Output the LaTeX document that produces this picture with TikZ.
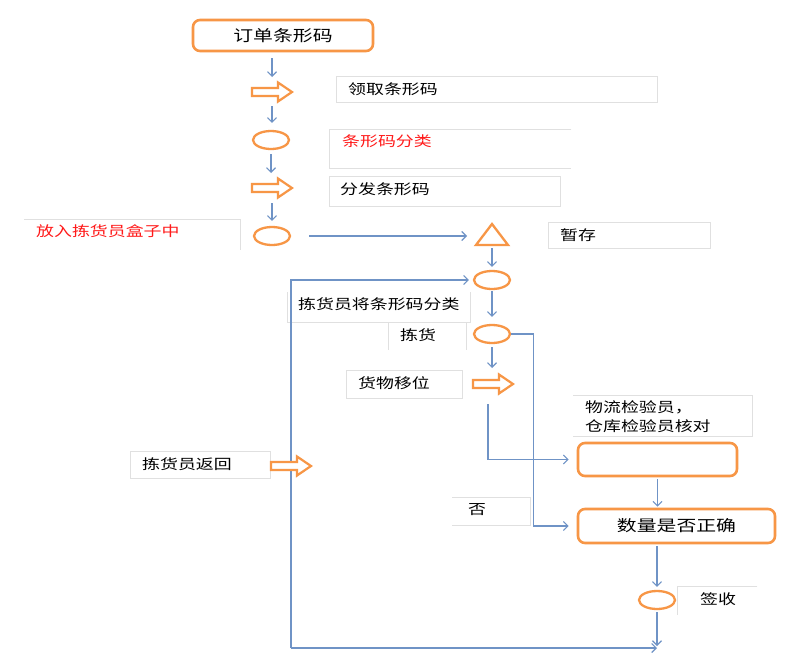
\documentclass[tikz,border=0pt]{standalone}
\usepackage{fontspec}
\newfontfamily\cjk[FakeStretch=1.28]{Noto Sans CJK SC}
\usetikzlibrary{shapes.geometric,arrows.meta}
\definecolor{orng}{HTML}{F79646}
\definecolor{lblue}{HTML}{6F93C6}
\definecolor{boxgray}{HTML}{E0E0E0}
\definecolor{redtxt}{HTML}{FF1A1A}
\begin{document}
\begin{tikzpicture}[x=1pt,y=-1pt,
  flow/.style={draw=lblue, line width=1.1pt, -{Straight Barb[length=4.5pt,width=9pt]}},
  orngbox/.style={draw=orng, line width=2.6pt, rounded corners=7pt, inner sep=0},
  oval/.style={ellipse, draw=orng, line width=2.3pt, minimum width=36pt, minimum height=18pt, inner sep=0},
  fatline/.style={draw=orng, fill=white, line width=2.2pt, line join=miter},
  tbox/.style={anchor=north west, inner sep=0},
  tline/.style={draw=boxgray, line width=0.9pt},
  lbl/.style={font=\cjk\fontsize{14}{19}\selectfont, anchor=west, inner sep=0, align=left},
  biglbl/.style={font=\cjk\fontsize{15.5}{18}\selectfont},
  fatarrow/.pic={\path[fatline] (-20,-4) -- (6,-4) -- (6,-9.5) -- (20,0) -- (6,9.5) -- (6,4) -- (-20,4) -- cycle;}
]
\fill[white] (0,0) rectangle (810,664);
\useasboundingbox (0,0) rectangle (810,664);

% text boxes
\node[tbox, minimum width=321pt, minimum height=26pt] (b1) at (336,76) {};
\node[tbox, minimum width=242pt, minimum height=39pt] (b2) at (329,129) {};
\node[tbox, minimum width=231pt, minimum height=30pt] (b3) at (329,176) {};
\node[tbox, minimum width=216pt, minimum height=31pt] (b4) at (24,219) {};
\node[tbox, minimum width=162pt, minimum height=26pt] (b5) at (548,222) {};
\node[tbox, minimum width=183pt, minimum height=30pt] (b6) at (287,292) {};
\node[tbox, minimum width=78pt, minimum height=28pt] (b7) at (388,322) {};
\node[tbox, minimum width=116pt, minimum height=28pt] (b8) at (346,370) {};
\node[tbox, minimum width=179pt, minimum height=41pt] (b9) at (573,395) {};
\node[tbox, minimum width=140pt, minimum height=27pt] (b10) at (130,451) {};
\node[tbox, minimum width=78pt, minimum height=28pt] (b11) at (452,497) {};
\node[tbox, minimum width=80pt, minimum height=29pt] (b12) at (677,586) {};

\draw[tline] (b1.north west) rectangle (b1.south east);
\draw[tline] (b2.north east) -- (b2.north west) -- (b2.south west) -- (b2.south east);
\draw[tline] (b3.north west) rectangle (b3.south east);
\draw[tline] (b4.north west) -- (b4.north east) -- (b4.south east);
\draw[tline] (b5.north west) rectangle (b5.south east);
\draw[tline] (b6.north west) -- (b6.south west) -- (b6.south east) -- (b6.north east);
\draw[tline] (b7.north west) -- (b7.south west) (b7.north east) -- (b7.south east);
\draw[tline] (b8.north west) rectangle (b8.south east);
\draw[tline] (b9.north west) -- (b9.north east) -- (b9.south east) -- (b9.south west);
\draw[tline] (b10.north west) rectangle (b10.south east);
\draw[tline] (b11.north west) -- (b11.north east) -- (b11.south east) -- (b11.south west);
\draw[tline] (b12.north east) -- (b12.north west) -- (b12.south west);

% labels
\node[lbl] (t1) at (348,89) {领取条形码};
\node[lbl, text=redtxt] (t2) at (342,141) {条形码分类};
\node[lbl] (t3) at (340,189) {分发条形码};
\node[lbl, text=redtxt] (t4) at (36,231) {放入拣货员盒子中};
\node[lbl] (t5) at (560,235) {暂存};
\node[lbl] (t6) at (298,304) {拣货员将条形码分类};
\node[lbl] (t7) at (400,335) {拣货};
\node[lbl] (t8) at (358,383) {货物移位};
\node[lbl] (t9) at (585,417) {物流检验员，\\仓库检验员核对};
\node[lbl] (t10) at (142,464) {拣货员返回};
\node[lbl] (t11) at (468,510) {否};
\node[lbl] (t12) at (700,599) {签收};

% main shapes
\node[orngbox, minimum width=180pt, minimum height=31pt, biglbl] (top) at (283,35.5) {订单条形码};
\coordinate (fa1) at (272,92);
\coordinate (fa2) at (272,188);
\coordinate (fa3) at (493,384);
\coordinate (fa4) at (291,466);
\node[oval] (e1) at (271,140) {};
\node[oval] (e2) at (272,236) {};
\coordinate (tri) at (492,245);
\node[oval] (e3) at (492,280) {};
\node[oval] (e4) at (492,334) {};
\node[orngbox, minimum width=159pt, minimum height=33pt] (chk) at (657.5,459.5) {};
\node[orngbox, minimum width=197pt, minimum height=34pt, biglbl] (qty) at (676.5,526) {数量是否正确};
\node[oval] (sign) at (657,600) {};
\coordinate (bot) at (657,648);
\coordinate (m1) at (488,404);

% connectors
\draw[flow, shorten <=6pt, shorten >=15pt] (top.south -| fa1) -- (fa1);
\draw[flow, shorten <=14pt, shorten >=7pt] (fa1) -- (fa1 |- e1.north);
\draw[flow, shorten <=4pt, shorten >=15pt] (e1.south) -- (e1.south |- fa2);
\draw[flow, shorten <=15pt, shorten >=5pt] (fa2) -- (fa2 |- e2.north);
\draw[flow, shorten <=18pt, shorten >=25pt] (e2.east) -- (e2.east -| tri);
\draw[flow, shorten <=3pt, shorten >=3pt] (tri) -- (e3.north);
\draw[flow, shorten <=1pt, shorten >=7pt] (e3.south) -- (e4.north);
\draw[flow, shorten <=3pt, shorten >=16pt] (e4.south) -- (e4.south |- fa3);
\draw[flow, shorten >=8pt] (e4.east) -| ([xshift=-43pt]qty.west |- e4.east) |- (qty.west);
\draw[flow, shorten >=8pt] (m1) |- (chk.west);
\draw[flow, shorten <=2pt, shorten >=1pt] (chk.south) -- (chk.south |- qty.north);
\draw[flow, shorten <=2pt, shorten >=3pt] (qty.south -| sign) -- (sign.north);
\draw[flow, shorten <=2pt, shorten >=2pt] (sign.south) -- (bot);
\draw[flow, shorten >=4pt] (fa4 |- bot) -- (fa4 |- e3) -- (e3.west);
\draw[flow] (fa4 |- bot) -- (bot);

% triangle and fat arrows
\draw[fatline, line width=2.3pt] (476,245) -- (508,245) -- (492,224) -- cycle;
\pic at (fa1) {fatarrow};
\pic at (fa2) {fatarrow};
\pic at (fa3) {fatarrow};
\pic at (fa4) {fatarrow};
\end{tikzpicture}
\end{document}
